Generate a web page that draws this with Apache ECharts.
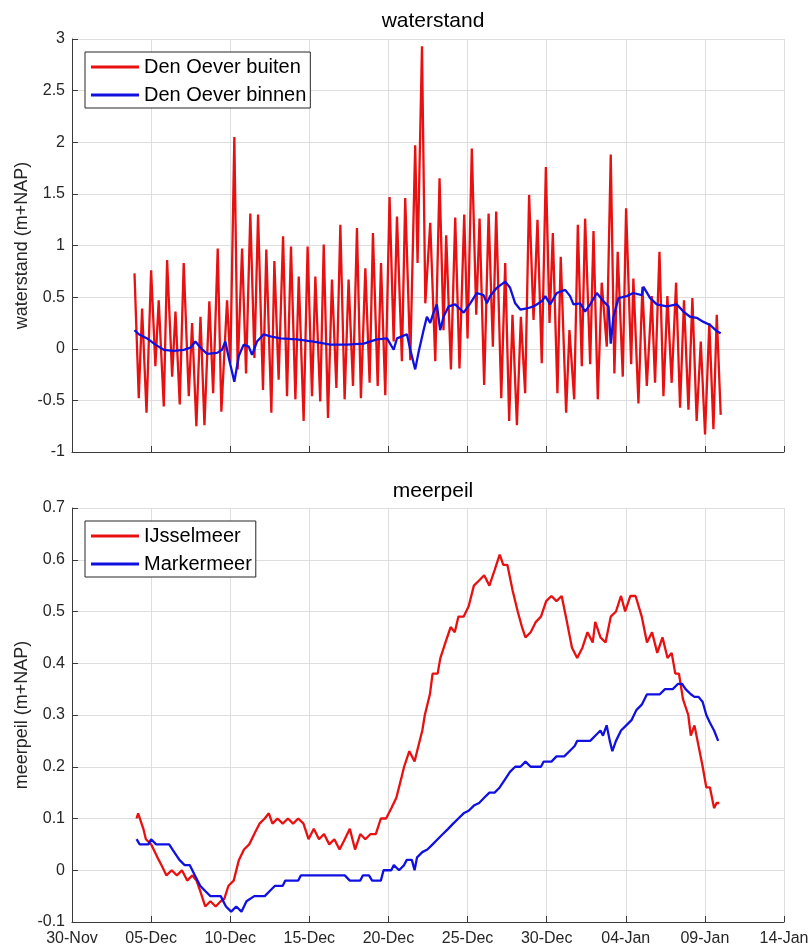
<!DOCTYPE html>
<html lang="nl">
<head>
<meta charset="UTF-8">
<title>waterstand en meerpeil</title>
<script src="https://cdn.jsdelivr.net/npm/echarts@6/dist/echarts.min.js"></script>
<style>
  html, body { margin: 0; padding: 0; background: #fff; }
  #main { width: 812px; height: 948px; }
</style>
</head>
<body>
<div id="main"></div>
<script>
// x = days since 30-Nov
var dateLabels = ['30-Nov', '05-Dec', '10-Dec', '15-Dec', '20-Dec', '25-Dec', '30-Dec', '04-Jan', '09-Jan', '14-Jan'];

var buiten = [
  [3.95,0.73],[4.22,-0.48],[4.43,0.39],[4.71,-0.62],[5.00,0.76],[5.27,-0.17],[5.48,0.47],[5.80,-0.56],
  [6.01,0.86],[6.33,-0.27],[6.54,0.36],[6.81,-0.54],[7.06,0.83],[7.38,-0.46],[7.59,0.25],[7.86,-0.75],
  [8.12,0.31],[8.37,-0.74],[8.68,0.46],[8.92,-0.43],[9.21,0.97],[9.44,-0.61],[9.80,0.47],[10.01,-0.14],
  [10.26,2.05],[10.47,-0.20],[10.75,0.97],[11.00,-0.24],[11.27,1.31],[11.53,-0.09],[11.76,1.30],[12.07,-0.40],
  [12.28,0.96],[12.60,-0.62],[12.79,0.85],[13.06,-0.30],[13.34,1.09],[13.59,-0.46],[13.84,0.99],[14.12,-0.49],
  [14.33,0.70],[14.64,-0.70],[14.89,0.99],[15.17,-0.46],[15.38,0.70],[15.69,-0.51],[15.91,1.01],[16.18,-0.67],
  [16.43,0.67],[16.71,-0.38],[16.96,1.20],[17.23,-0.49],[17.48,0.67],[17.76,-0.36],[18.01,1.17],[18.26,-0.48],
  [18.54,0.78],[18.81,-0.33],[19.02,1.12],[19.32,-0.36],[19.53,0.83],[19.80,-0.45],[20.07,1.47],[20.33,0.07],
  [20.54,1.28],[20.85,-0.12],[21.06,1.46],[21.38,-0.11],[21.69,1.97],[21.84,0.83],[22.12,2.93],[22.33,0.44],
  [22.64,1.22],[22.96,-0.12],[23.23,1.65],[23.48,0.18],[23.65,1.10],[23.95,-0.20],[24.22,1.27],[24.49,-0.19],
  [24.79,1.30],[25.00,0.10],[25.27,1.94],[25.55,0.33],[25.76,1.26],[26.05,-0.35],[26.33,1.31],[26.60,0.02],
  [26.81,1.33],[27.13,-0.48],[27.38,0.83],[27.63,-0.70],[27.84,0.33],[28.12,-0.74],[28.37,0.31],[28.64,-0.43],
  [28.89,1.49],[29.17,0.28],[29.42,1.25],[29.69,-0.14],[29.95,1.76],[30.18,0.25],[30.39,1.12],[30.68,-0.43],
  [30.89,0.89],[31.23,-0.62],[31.44,0.18],[31.74,-0.49],[31.97,1.20],[32.22,-0.17],[32.43,1.26],[32.75,-0.15],
  [32.96,1.14],[33.23,-0.49],[33.48,0.64],[33.80,0.02],[34.05,1.88],[34.28,-0.24],[34.49,0.94],[34.81,-0.27],
  [35.02,1.36],[35.34,-0.15],[35.48,0.68],[35.80,-0.53],[36.05,0.60],[36.33,-0.36],[36.64,0.51],[36.85,-0.33],
  [37.13,0.94],[37.38,-0.46],[37.63,0.51],[37.90,-0.33],[38.18,0.64],[38.43,-0.57],[38.68,0.47],[38.96,-0.59],
  [39.21,0.49],[39.48,-0.70],[39.74,0.07],[40.01,-0.83],[40.28,0.25],[40.54,-0.78],[40.75,0.33],[41.00,-0.64]
];

var binnen = [
  [3.95,0.18],[4.22,0.14],[4.75,0.10],[5.27,0.04],[5.80,-0.01],[6.43,-0.02],[7.06,-0.01],[7.48,0.01],
  [7.80,0.07],[8.12,0.01],[8.54,-0.05],[9.17,-0.04],[9.48,-0.01],[9.69,0.07],[9.91,-0.09],[10.26,-0.32],
  [10.54,-0.07],[10.85,0.04],[11.17,0.02],[11.38,-0.06],[11.69,0.07],[12.12,0.14],[12.54,0.12],[13.17,0.10],
  [14.22,0.09],[15.27,0.07],[16.33,0.04],[17.38,0.04],[18.43,0.05],[19.27,0.09],[19.91,0.10],[20.33,-0.01],
  [20.54,0.10],[21.17,0.14],[21.38,-0.01],[21.69,-0.20],[21.91,-0.03],[22.22,0.18],[22.43,0.31],[22.64,0.25],
  [22.85,0.35],[23.06,0.43],[23.27,0.18],[23.48,0.31],[23.80,0.41],[24.22,0.43],[24.75,0.35],[25.17,0.44],
  [25.59,0.54],[26.01,0.52],[26.22,0.44],[26.43,0.51],[26.85,0.59],[27.38,0.65],[27.69,0.59],[28.01,0.44],
  [28.33,0.38],[28.75,0.39],[29.17,0.41],[29.69,0.46],[29.91,0.51],[30.22,0.43],[30.64,0.54],[31.17,0.57],
  [31.48,0.51],[31.69,0.43],[32.12,0.44],[32.43,0.36],[32.75,0.43],[33.17,0.54],[33.59,0.46],[33.91,0.41],
  [34.05,0.05],[34.22,0.31],[34.54,0.49],[35.06,0.51],[35.48,0.54],[36.01,0.52],[36.12,0.60],[36.54,0.49],
  [36.96,0.43],[37.59,0.41],[38.22,0.43],[38.64,0.36],[39.06,0.31],[39.48,0.30],[39.91,0.26],[40.33,0.23],
  [40.75,0.17],[41.00,0.15]
];

var ijssel = [
  [4.08,0.10],[4.18,0.11],[4.51,0.08],[4.67,0.06],[5.00,0.05],[5.16,0.04],[5.48,0.02],[5.65,0.01],
  [5.97,-0.01],[6.30,0.00],[6.63,-0.01],[6.95,0.00],[7.28,-0.02],[7.61,-0.01],[7.87,-0.02],[8.10,-0.04],
  [8.42,-0.07],[8.75,-0.06],[9.08,-0.07],[9.40,-0.06],[9.63,-0.055],[9.89,-0.03],[10.22,-0.02],[10.55,0.02],
  [10.87,0.04],[11.20,0.05],[11.52,0.07],[11.85,0.09],[12.18,0.10],[12.44,0.11],[12.67,0.09],[12.99,0.10],
  [13.32,0.09],[13.65,0.10],[13.97,0.09],[14.30,0.10],[14.63,0.09],[14.95,0.06],[15.28,0.08],[15.61,0.06],
  [15.93,0.07],[16.26,0.05],[16.58,0.06],[16.91,0.04],[17.24,0.06],[17.56,0.08],[17.89,0.04],[18.22,0.07],
  [18.54,0.06],[18.87,0.07],[19.20,0.07],[19.52,0.10],[19.85,0.10],[20.18,0.12],[20.50,0.14],[20.83,0.18],
  [20.99,0.20],[21.32,0.23],[21.65,0.21],[21.81,0.23],[22.14,0.27],[22.30,0.30],[22.62,0.34],[22.79,0.38],
  [23.11,0.38],[23.28,0.41],[23.60,0.44],[23.93,0.47],[24.19,0.46],[24.42,0.49],[24.75,0.49],[25.07,0.51],
  [25.40,0.55],[25.73,0.56],[26.05,0.57],[26.38,0.55],[26.71,0.58],[27.03,0.61],[27.26,0.59],[27.52,0.59],
  [27.85,0.54],[28.17,0.50],[28.44,0.47],[28.66,0.45],[28.99,0.46],[29.32,0.48],[29.64,0.49],[29.97,0.52],
  [30.30,0.53],[30.62,0.52],[30.95,0.53],[31.28,0.48],[31.60,0.43],[31.93,0.41],[32.26,0.43],[32.58,0.46],
  [32.91,0.44],[33.07,0.48],[33.40,0.45],[33.72,0.44],[34.05,0.49],[34.38,0.50],[34.70,0.53],[34.96,0.50],
  [35.29,0.53],[35.62,0.53],[36.01,0.49],[36.34,0.44],[36.66,0.46],[36.99,0.42],[37.32,0.45],[37.64,0.41],
  [37.90,0.42],[38.13,0.38],[38.36,0.38],[38.62,0.33],[38.95,0.30],[39.11,0.26],[39.34,0.28],[39.60,0.24],
  [39.86,0.20],[40.09,0.16],[40.32,0.16],[40.58,0.12],[40.74,0.13],[40.91,0.13]
];

var marker = [
  [4.08,0.06],[4.28,0.05],[4.83,0.05],[5.00,0.06],[5.32,0.05],[6.14,0.05],[6.46,0.035],[6.79,0.02],
  [7.12,0.01],[7.44,0.01],[7.77,-0.01],[8.10,-0.03],[8.42,-0.04],[8.75,-0.05],[9.40,-0.05],[9.73,-0.07],
  [10.06,-0.08],[10.38,-0.07],[10.71,-0.08],[11.03,-0.06],[11.52,-0.05],[11.69,-0.05],[12.18,-0.05],[12.50,-0.04],
  [12.83,-0.03],[13.32,-0.03],[13.48,-0.02],[14.30,-0.02],[14.46,-0.01],[17.24,-0.01],[17.56,-0.02],[18.22,-0.02],
  [18.38,-0.01],[18.77,-0.01],[18.97,-0.02],[19.52,-0.02],[19.69,0.00],[20.18,0.00],[20.34,0.01],[20.67,0.00],
  [20.99,0.01],[21.16,0.02],[21.48,0.02],[21.65,0.00],[21.81,0.025],[22.14,0.035],[22.46,0.04],[22.79,0.05],
  [23.11,0.06],[23.44,0.07],[23.77,0.08],[24.09,0.09],[24.42,0.10],[24.75,0.11],[25.07,0.115],[25.40,0.125],
  [25.73,0.13],[26.05,0.14],[26.38,0.15],[26.71,0.15],[27.03,0.16],[27.36,0.175],[27.68,0.19],[28.01,0.20],
  [28.34,0.20],[28.66,0.21],[28.99,0.20],[29.64,0.20],[29.81,0.21],[30.30,0.21],[30.62,0.22],[31.11,0.22],
  [31.44,0.23],[31.77,0.24],[31.93,0.25],[32.75,0.25],[33.07,0.26],[33.40,0.27],[33.56,0.26],[33.79,0.28],
  [33.99,0.25],[34.15,0.23],[34.38,0.25],[34.70,0.27],[35.03,0.28],[35.36,0.29],[35.68,0.31],[36.01,0.32],
  [36.34,0.34],[37.15,0.34],[37.48,0.35],[37.97,0.35],[38.29,0.36],[38.56,0.36],[38.78,0.35],[39.11,0.34],
  [39.34,0.335],[39.60,0.335],[39.86,0.325],[40.09,0.30],[40.32,0.285],[40.58,0.27],[40.84,0.25]
];

var FONT = 'Liberation Sans, Arial, Helvetica, sans-serif';
var RED = '#e81010';
var BLUE = '#1010e0';
var AXIS = '#3a3a3a';
var GRIDC = '#dedede';

function xAxisFor(gridIndex, showLabels) {
  return {
    type: 'value', gridIndex: gridIndex,
    min: 0, max: 45, interval: 5,
    axisLine: { show: true, onZero: false, lineStyle: { color: AXIS, width: 1 } },
    axisTick: { show: true, inside: true, length: 6, lineStyle: { color: AXIS } },
    splitLine: { show: true, lineStyle: { color: GRIDC, width: 1 } },
    axisLabel: {
      show: showLabels, margin: 9, fontSize: 16, color: '#262626', fontFamily: FONT,
      formatter: function (v) { return dateLabels[Math.round(v / 5)]; }
    }
  };
}

function yAxisFor(gridIndex, name, min, max, interval) {
  return {
    type: 'value', gridIndex: gridIndex,
    min: min, max: max, interval: interval,
    name: name, nameLocation: 'middle', nameGap: 41, nameMoveOverlap: false,
    nameTextStyle: { fontSize: 18, color: '#262626', fontFamily: FONT },
    axisLine: { show: true, onZero: false, lineStyle: { color: AXIS, width: 1 } },
    axisTick: { show: true, inside: true, length: 6, lineStyle: { color: AXIS } },
    splitLine: { show: true, lineStyle: { color: GRIDC, width: 1 } },
    axisLabel: { margin: 7, fontSize: 16, color: '#262626', fontFamily: FONT }
  };
}

function legendFor(top, names) {
  return {
    data: names, orient: 'vertical', left: 85, top: top,
    backgroundColor: '#fff', borderColor: '#262626', borderWidth: 1, borderRadius: 0,
    padding: [5, 4, 3, 6], itemGap: 8, itemWidth: 48, itemHeight: 3, icon: 'rect',
    textStyle: { fontSize: 20, color: '#000', fontFamily: FONT }
  };
}

function lineSeries(name, data, color, xi, yi) {
  return {
    name: name, type: 'line', data: data, xAxisIndex: xi, yAxisIndex: yi,
    symbol: 'none', lineStyle: { color: color, width: 2.3 }, itemStyle: { color: color }
  };
}

var chart = echarts.init(document.getElementById('main'), null, { renderer: 'canvas' });
chart.setOption({
  animation: false,
  backgroundColor: '#fff',
  textStyle: { fontFamily: FONT },
  title: [
    { text: 'waterstand', left: 428, top: 6, textAlign: 'center',
      textStyle: { fontSize: 21, fontWeight: 'normal', color: '#000', fontFamily: FONT } },
    { text: 'meerpeil', left: 428, top: 476, textAlign: 'center',
      textStyle: { fontSize: 21, fontWeight: 'normal', color: '#000', fontFamily: FONT } }
  ],
  legend: [
    legendFor(52, ['Den Oever buiten', 'Den Oever binnen']),
    legendFor(521, ['IJsselmeer', 'Markermeer'])
  ],
  grid: [
    { left: 72, right: 28, top: 39, height: 413, outerBoundsMode: 'none' },
    { left: 72, right: 28, top: 508, height: 414, outerBoundsMode: 'none' }
  ],
  xAxis: [xAxisFor(0, false), xAxisFor(1, true)],
  yAxis: [
    yAxisFor(0, 'waterstand (m+NAP)', -1, 3, 0.5),
    yAxisFor(1, 'meerpeil (m+NAP)', -0.1, 0.7, 0.1)
  ],
  series: [
    lineSeries('Den Oever buiten', buiten, RED, 0, 0),
    lineSeries('Den Oever binnen', binnen, BLUE, 0, 0),
    lineSeries('IJsselmeer', ijssel, RED, 1, 1),
    lineSeries('Markermeer', marker, BLUE, 1, 1)
  ]
});
</script>
</body>
</html>
